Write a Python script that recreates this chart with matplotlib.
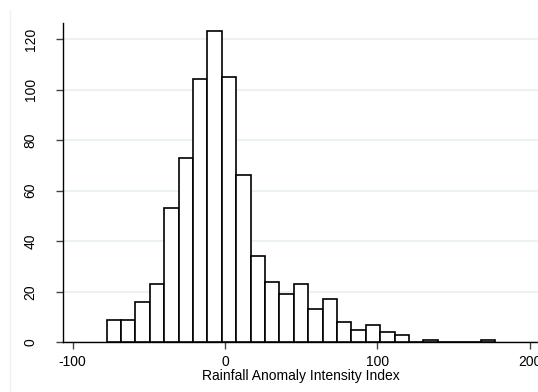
import numpy as np
import matplotlib
matplotlib.use("Agg")
import matplotlib.pyplot as plt
from matplotlib.lines import Line2D

# Histogram data (27 bins)
bin_start = -77.7
bin_width = 9.45
counts = [9, 9, 16, 23, 53, 73, 104, 123, 105, 66, 34, 24, 19, 23, 13, 17,
          8, 5, 7, 4, 3, 0, 1, 0, 0, 0, 1]
x_ticks = [-100, 0, 100, 200]
y_ticks = [0, 20, 40, 60, 80, 100, 120]
x_label = "Rainfall Anomaly Intensity Index"

plt.rcParams['font.family'] = ['Liberation Sans', 'DejaVu Sans']

W, H = 538, 392
fig = plt.figure(figsize=(W / 100, H / 100), dpi=100)
fig.patch.set_facecolor('white')

left_px, right_px, top_px, bottom_px = 63.3, 538.0, 23.3, 342.3
ax = fig.add_axes([left_px / W, (H - bottom_px) / H,
                   (right_px - left_px) / W, (bottom_px - top_px) / H])

edges = bin_start + bin_width * np.arange(len(counts))
ax.bar(edges, counts, width=bin_width, align='edge', color='white',
       edgecolor='black', linewidth=1.2, zorder=3)

ax.set_xlim(-106.17, 205.5)
ax.set_ylim(0, 126.2)
ax.set_xticks(x_ticks)
ax.set_yticks(y_ticks)
ax.set_xticklabels([str(v) for v in x_ticks])
ax.set_yticklabels([str(v) for v in y_ticks], rotation=90, va='center')

ax.grid(axis='y', color='#e8f0f2', linewidth=1.2, zorder=0)
ax.set_axisbelow(True)
ax.spines['top'].set_visible(False)
ax.spines['right'].set_visible(False)
for s in ('left', 'bottom'):
    ax.spines[s].set_color('black')
    ax.spines[s].set_linewidth(1.0)

ax.tick_params(axis='y', length=5, width=1, color='#444444', pad=13.5,
               labelsize=10, labelcolor='black')
ax.tick_params(axis='x', length=5, width=1, color='#444444', pad=4,
               labelsize=10, labelcolor='black')
ax.set_xlabel(x_label, fontsize=10, labelpad=0)

# faint outer frame line on the left
fig.add_artist(Line2D([9.5 / W, 9.5 / W], [0, (H - 10) / H],
                      color='#f0f0f0', linewidth=1, transform=fig.transFigure))

fig.savefig("out.png", dpi=100, facecolor='white')
